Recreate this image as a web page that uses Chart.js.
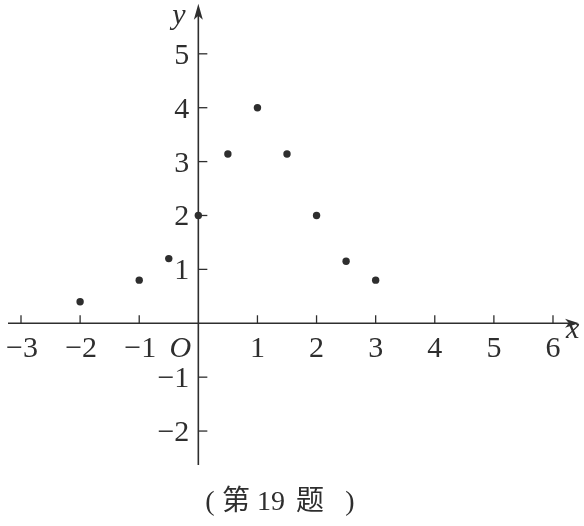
<!DOCTYPE html>
<html>
<head>
<meta charset="utf-8">
<script src="https://cdn.jsdelivr.net/npm/chart.js@4.4.1/dist/chart.umd.min.js"></script>
<style>
html,body{margin:0;padding:0;background:#fff;}
#wrap{width:584px;height:526px;position:relative;}
</style>
</head>
<body>
<div id="wrap"><canvas id="c" width="584" height="526"></canvas></div>
<script>
// Data
const xValues = [-2, -1, -0.5, 0, 0.5, 1, 1.5, 2, 2.5, 3];
const yValues = [0.4, 0.8, 1.2, 2, 3.14, 4, 3.14, 2, 1.15, 0.8];
const xTickValues = [-3, -2, -1, 1, 2, 3, 4, 5, 6];
const xTickLabels = ['\u22123', '\u22122', '\u22121', '1', '2', '3', '4', '5', '6'];
const yTickValues = [5, 4, 3, 2, 1, -1, -2];
const yTickLabels = ['5', '4', '3', '2', '1', '\u22121', '\u22122'];
const captionParts = ['(', '第', '19', '题', ')'];

const ink = '#2e2e2e';
const serif = '"Liberation Serif", "DejaVu Serif", serif';

const axesPlugin = {
  id: 'mathAxes',
  beforeDatasetsDraw(chart) {
    const ctx = chart.ctx;
    const xs = chart.scales.x, ys = chart.scales.y;
    const ox = xs.getPixelForValue(0), oy = ys.getPixelForValue(0);
    const left = xs.left, right = xs.right, top = ys.top, bottom = ys.bottom;
    ctx.save();
    ctx.strokeStyle = ink; ctx.fillStyle = ink; ctx.lineWidth = 1.6;
    // x axis
    ctx.beginPath(); ctx.moveTo(left, oy); ctx.lineTo(right - 6, oy); ctx.stroke();
    ctx.beginPath(); ctx.moveTo(right, oy); ctx.lineTo(right - 14, oy - 4.5); ctx.lineTo(right - 10, oy); ctx.lineTo(right - 14, oy + 4.5); ctx.closePath(); ctx.fill();
    // y axis
    ctx.beginPath(); ctx.moveTo(ox, bottom); ctx.lineTo(ox, top + 6); ctx.stroke();
    ctx.beginPath(); ctx.moveTo(ox, top); ctx.lineTo(ox - 4.5, top + 16); ctx.lineTo(ox, top + 12); ctx.lineTo(ox + 4.5, top + 16); ctx.closePath(); ctx.fill();
    // ticks
    ctx.lineWidth = 1.3;
    xTickValues.forEach(v => {
      const px = xs.getPixelForValue(v);
      ctx.beginPath(); ctx.moveTo(px, oy); ctx.lineTo(px, oy - 8); ctx.stroke();
    });
    yTickValues.forEach(v => {
      const py = ys.getPixelForValue(v);
      ctx.beginPath(); ctx.moveTo(ox, py); ctx.lineTo(ox + 9, py); ctx.stroke();
    });
    // labels
    ctx.font = '30px ' + serif;
    ctx.textBaseline = 'alphabetic';
    ctx.textAlign = 'center';
    xTickValues.forEach((v, i) => {
      const px = xs.getPixelForValue(v);
      ctx.fillText(xTickLabels[i], px + (v < 0 ? 1 : 0), oy + 34);
    });
    ctx.textAlign = 'right';
    yTickValues.forEach((v, i) => {
      const py = ys.getPixelForValue(v);
      ctx.fillText(yTickLabels[i], ox - 9, py + 10);
    });
    ctx.font = 'italic 30px ' + serif;
    ctx.textAlign = 'center';
    ctx.fillText('O', ox - 18, oy + 34);
    ctx.textAlign = 'left';
    ctx.fillText('x', right - 13, oy + 15);
    ctx.fillText('y', ox - 26, top + 20);
    // caption
    ctx.font = '28px "Liberation Serif", "Noto Sans CJK SC", serif';
    ctx.textAlign = 'center';
    ctx.textBaseline = 'middle';
    const capX = [210, 236, 271, 310, 350];
    captionParts.forEach((t, i) => ctx.fillText(t, capX[i], 503));
    ctx.restore();
  }
};

new Chart(document.getElementById('c'), {
  type: 'scatter',
  data: {
    datasets: [{
      data: xValues.map((x, i) => ({x: x, y: yValues[i]})),
      pointRadius: 3.7,
      pointHoverRadius: 3.7,
      pointBackgroundColor: ink,
      pointBorderColor: ink,
      pointBorderWidth: 0
    }]
  },
  options: {
    responsive: false,
    animation: false,
    events: [],
    layout: {padding: {left: 8, right: 5, top: 3, bottom: 61}},
    plugins: {legend: {display: false}, tooltip: {enabled: false}},
    scales: {
      x: {type: 'linear', min: -3.22, max: 6.44, display: false},
      y: {type: 'linear', min: -2.63, max: 5.93, display: false}
    }
  },
  plugins: [axesPlugin]
});
</script>
</body>
</html>
